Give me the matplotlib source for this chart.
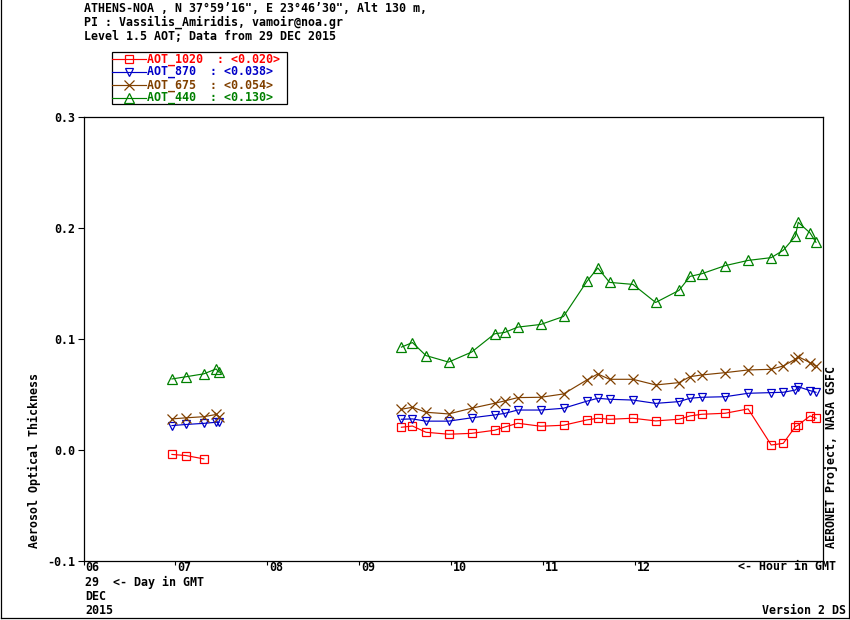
import numpy as np
import matplotlib.pyplot as plt
import matplotlib.transforms as mtransforms
from matplotlib.lines import Line2D
from matplotlib.patches import Rectangle

# hours in GMT, 29 DEC 2015
hours = [6.962, 7.115, 7.308, 7.442, 7.475,
         9.458, 9.578, 9.724, 9.971, 10.221, 10.472, 10.581, 10.723, 10.973,
         11.221, 11.475, 11.594, 11.722, 11.976, 12.223, 12.477, 12.597,
         12.725, 12.979, 13.229, 13.480, 13.611, 13.742, 13.774, 13.902, 13.967]

aot_1020 = [-0.004, -0.005, -0.008, np.nan, np.nan,
            0.0205, 0.0216, 0.0160, 0.0142, 0.0150, 0.0178, 0.0207, 0.0241, 0.0214,
            0.0223, 0.0271, 0.0286, 0.0277, 0.0286, 0.0262, 0.0277, 0.0307,
            0.0322, 0.0331, 0.0370, 0.0045, 0.0060, 0.0210, 0.0225, 0.0307, 0.0286]
aot_870 = [0.022, 0.023, 0.024, 0.025, 0.025,
           0.0277, 0.0280, 0.0260, 0.0260, 0.0290, 0.0316, 0.0330, 0.0360, 0.0360,
           0.0376, 0.0440, 0.0466, 0.0457, 0.0450, 0.0420, 0.0436, 0.0466,
           0.0475, 0.0480, 0.0511, 0.0517, 0.0520, 0.0540, 0.0570, 0.0535, 0.0520]
aot_675 = [0.028, 0.029, 0.030, 0.032, 0.030,
           0.0367, 0.0385, 0.0340, 0.0325, 0.0376, 0.0421, 0.0442, 0.0472, 0.0475,
           0.0505, 0.0631, 0.0685, 0.0637, 0.0637, 0.0586, 0.0607, 0.0661,
           0.0676, 0.0697, 0.0721, 0.0727, 0.0757, 0.0818, 0.0841, 0.0787, 0.0757]
aot_440 = [0.064, 0.066, 0.0686, 0.073, 0.070,
           0.0927, 0.0968, 0.0851, 0.0792, 0.0882, 0.1047, 0.1059, 0.1107, 0.1131,
           0.1203, 0.1519, 0.1640, 0.1510, 0.1492, 0.1329, 0.1438, 0.1564,
           0.1588, 0.1661, 0.1708, 0.1733, 0.1799, 0.1925, 0.2051, 0.1956, 0.1871]

names = ['AOT_1020  : <0.020>', 'AOT_870  : <0.038>', 'AOT_675  : <0.054>', 'AOT_440  : <0.130>']
series = [aot_1020, aot_870, aot_675, aot_440]
colors = ['#ff0000', '#0000c8', '#804000', '#008000']
markers = ['s', 'v', 'x', '^']
msizes = [6, 6, 7, 6.5]

hour_ticks = [6, 7, 8, 9, 10, 11, 12]
hour_labels = ['06', '07', '08', '09', '10', '11', '12']
aot_ticks = [-0.1, 0.0, 0.1, 0.2, 0.3]

plt.rcParams['font.family'] = ['DejaVu Sans Mono']
plt.rcParams['font.weight'] = 'bold'
FS = 8.4

W, H = 850, 620
fig = plt.figure(figsize=(W / 100, H / 100), dpi=100)
ax = fig.add_axes([83.5 / W, 1 - 561 / H, (822.7 - 83.5) / W, (561 - 117) / H])


def px(x, y):
    return x / W, 1 - y / H


def with_gaps(h, v):
    h = np.array(h, float)
    v = np.array(v, float)
    cut = np.where(np.diff(h) > 1.0)[0] + 1
    return np.insert(h, cut, np.nan), np.insert(v, cut, np.nan)


for vals, c, m, ms in zip(series, colors, markers, msizes):
    hx, vy = with_gaps(hours, vals)
    ax.plot(hx, vy, color=c, lw=0.85, marker=m, ms=ms, mfc='none', mec=c, mew=0.9)

ax.set_xlim(6, 14.04)
ax.set_ylim(-0.1, 0.3)
ax.set_xticks(hour_ticks)
ax.set_xticklabels(hour_labels, ha='left')
ax.set_yticks(aot_ticks)
ax.set_yticklabels(['%.1f' % t for t in aot_ticks])
ax.tick_params(axis='x', direction='out', length=3.2, width=0.8, pad=-3.0, labelsize=FS)
ax.tick_params(axis='y', direction='out', length=4.3, width=0.8, pad=1.5, labelsize=FS)
shift = mtransforms.ScaledTranslation(1.5 / 100, 0, fig.dpi_scale_trans)
for lab in ax.get_xticklabels():
    lab.set_transform(lab.get_transform() + shift)
for s in ax.spines.values():
    s.set_linewidth(0.9)

# header
fig.text(*px(84, 9), 'ATHENS-NOA , N 37\u00b059\u201916", E 23\u00b046\u201930", Alt 130 m,', fontsize=FS, va='center')
fig.text(*px(84, 22), 'PI : Vassilis_Amiridis, vamoir@noa.gr', fontsize=FS, va='center')
fig.text(*px(84, 36), 'Level 1.5 AOT; Data from 29 DEC 2015', fontsize=FS, va='center')

# legend box
fig.patches.append(Rectangle(px(112, 104), 175 / W, 52 / H, transform=fig.transFigure,
                             fill=False, ec='black', lw=0.9))
for i, (lab, c, m, ms) in enumerate(zip(names, colors, markers, msizes)):
    yy = 59 + 13 * i
    x0, y0 = px(112, yy)
    x1, _ = px(146, yy)
    fig.lines.append(Line2D([x0, x1], [y0, y0], transform=fig.transFigure, color=c, lw=0.85))
    xm, _ = px(129, yy)
    fig.lines.append(Line2D([xm], [y0], transform=fig.transFigure, color=c, marker=m, ms=ms,
                            mfc='none', mec=c, mew=0.9))
    fig.text(*px(147, yy), lab, color=c, fontsize=FS, va='center')

# side and bottom texts
fig.text(*px(34, 548), 'Aerosol Optical Thickness', rotation=90, ha='center', va='bottom', fontsize=FS)
fig.text(*px(831, 548), 'AERONET Project, NASA GSFC', rotation=90, ha='center', va='bottom', fontsize=FS)
fig.text(*px(836, 567), '<- Hour in GMT', ha='right', va='center', fontsize=FS)
fig.text(*px(85, 582), '29  <- Day in GMT', va='center', fontsize=FS)
fig.text(*px(85, 597), 'DEC', va='center', fontsize=FS)
fig.text(*px(85, 611), '2015', va='center', fontsize=FS)
fig.text(*px(846, 611), 'Version 2 DS', ha='right', va='center', fontsize=FS)

# outer frame
for xs, ys in [([1, 1], [0, 618]), ([849, 849], [0, 618]), ([1, 849], [618, 618])]:
    fig.lines.append(Line2D([x / W for x in xs], [1 - y / H for y in ys],
                            transform=fig.transFigure, color='black', lw=0.9))

fig.savefig('out.png', dpi=100)
